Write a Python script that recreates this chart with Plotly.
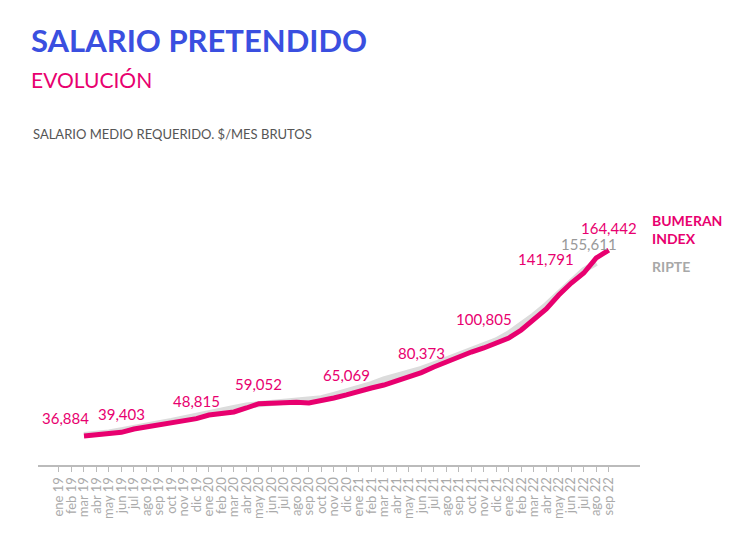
import plotly.graph_objects as go

months = ["ene","feb","mar","abr","may","jun","jul","ago","sep","oct","nov","dic"]
tick_labels = [f"{m} {y}" for y in ["19","20","21","22"] for m in months][:45]

bumeran = [36884,37570,38600,39403,41685,43057,44429,45801,47858,48815,51288,52660,53346,56089,
           59052,59300,59900,60000,59500,60890,62950,65069,67750,69810,71860,74610,77350,80373,
           84210,87640,91760,94500,97240,100805,104100,109590,117130,123990,133600,141791,148680,
           158970,164442]
ripte = [37500,38200,39300,40800,42700,44100,45600,47200,49200,50800,52600,54300,56200,57900,
         58600,59200,59800,60400,61200,62800,65100,67300,69900,72500,75800,77900,80300,82900,
         86100,89300,93000,96100,99300,102500,107300,113000,119600,126700,134900,142200,150600,
         155611]

start = 2  # series start at mar 19
xb = list(range(start, start + len(bumeran)))
xr = list(range(start, start + len(ripte)))

PINK = "#e8006f"
GREY = "#a8a8a8"
BLUE = "#3a4fe0"

fig = go.Figure()
fig.add_trace(go.Scatter(x=xr, y=ripte, mode="lines", line=dict(color="#dcdcdc", width=6), hoverinfo="skip"))
fig.add_trace(go.Scatter(x=xb, y=bumeran, mode="lines", line=dict(color=PINK, width=5), hoverinfo="skip"))

labels = {0: (-1.5, 18), 3: (0, 18), 9: (0, 18), 14: (0, 20), 21: (0, 20), 27: (0, 20), 33: (-1, 24), 39: (-2, 24), 42: (0, 22)}
for i, (dx, dy) in labels.items():
    fig.add_annotation(x=xb[i] + dx, y=bumeran[i], yshift=dy, text=f"{bumeran[i]:,}", showarrow=False,
                       font=dict(color=PINK, size=15, family="Lato"))
fig.add_annotation(x=xr[-1] - 0.6, y=ripte[-1], yshift=19, text=f"{ripte[-1]:,}", showarrow=False,
                   font=dict(color="#999999", size=15, family="Lato"))

fig.update_layout(
    width=730, height=533, plot_bgcolor="white", paper_bgcolor="white", showlegend=False,
    margin=dict(l=30, r=98, t=180, b=76, autoexpand=False),
    font=dict(family="Lato"),
    xaxis=dict(range=[-1.68, 46.5], tickmode="array", tickvals=list(range(45)), ticktext=tick_labels,
               tickangle=-90, tickfont=dict(color="#aaaaaa", size=13), showgrid=False, automargin=False,
               showline=True, linecolor="#bbbbbb", linewidth=2, ticks="outside", ticklen=5,
               tickcolor="#bbbbbb", zeroline=False),
    yaxis=dict(range=[16993, 206987], visible=False, showgrid=False, zeroline=False, automargin=False),
)

fig.add_annotation(xref="paper", yref="paper", x=0, y=1, xanchor="left", yanchor="bottom", showarrow=False,
                   xshift=-9, yshift=127, text="<b>SALARIO PRETENDIDO</b>", font=dict(color=BLUE, size=31, family="Lato"))
fig.add_annotation(xref="paper", yref="paper", x=0, y=1, xanchor="left", yanchor="bottom", showarrow=False,
                   xshift=-9, yshift=94, text="EVOLUCIÓN", font=dict(color=PINK, size=21, family="Lato"))
fig.add_annotation(xref="paper", yref="paper", x=0, y=1, xanchor="left", yanchor="bottom", showarrow=False,
                   xshift=-7, yshift=44, text="SALARIO MEDIO REQUERIDO. $/MES BRUTOS", font=dict(color="#555555", size=13, family="Lato"))
fig.add_annotation(xref="paper", yref="paper", x=1, y=1, xanchor="left", yanchor="top", showarrow=False, align="left",
                   xshift=10, yshift=-22, text="<b>BUMERAN<br>INDEX</b>", font=dict(color=PINK, size=14, family="Lato"))
fig.add_annotation(xref="paper", yref="paper", x=1, y=1, xanchor="left", yanchor="top", showarrow=False, align="left",
                   xshift=10, yshift=-68, text="<b>RIPTE</b>", font=dict(color=GREY, size=14, family="Lato"))

fig.write_html("out.html")
